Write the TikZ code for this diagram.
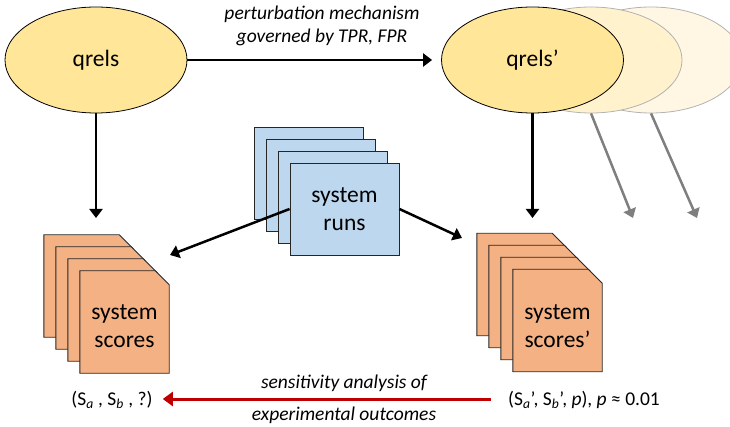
\documentclass[tikz,border=0pt]{standalone}
\usepackage{fontspec}
\setmainfont{Carlito}
\usetikzlibrary{arrows.meta,shapes.geometric}

\definecolor{qgold}{HTML}{FFE699}
\definecolor{qghostA}{HTML}{FFF2CC}
\definecolor{qghostB}{HTML}{FFF7E3}
\definecolor{runblue}{HTML}{BDD7EE}
\definecolor{scoreorange}{HTML}{F4B183}
\definecolor{darkred}{HTML}{C00000}
\definecolor{arrowgray}{HTML}{7F7F7F}

\newcommand{\bigtext}{\fontsize{23.5}{28}\selectfont}
\newcommand{\smalltext}{\fontsize{19.5}{23}\selectfont}

% one score sheet with a clipped top-right corner
\newcommand{\scoresheet}[2]{%
  \node[sheetbox] (#1) at (#2) {};
  \filldraw[sheetline] (#1.south west) -- (#1.north west)
    -- ([xshift=-14pt]#1.north east) -- ([yshift=-14pt]#1.north east)
    -- (#1.south east) -- cycle;
}

\begin{document}
\begin{tikzpicture}[x=1pt,y=-1pt,
  qellipse/.style={ellipse, draw=black, line width=0.8pt, fill=qgold,
    minimum width=182pt, minimum height=106pt, inner sep=0pt, font=\bigtext},
  ghost/.style={ellipse, draw=black!30, line width=0.8pt,
    minimum width=182pt, minimum height=106pt, inner sep=0pt},
  runbox/.style={rectangle, draw=black!85, line width=0.9pt, fill=runblue,
    minimum width=109pt, minimum height=92pt, inner sep=0pt},
  sheetbox/.style={rectangle, draw=none, minimum width=89pt,
    minimum height=102pt, inner sep=0pt},
  sheetline/.style={draw=black!85, line width=0.9pt, fill=scoreorange},
  flow/.style={line width=2.5pt, -{Triangle[length=9pt,width=13pt]}},
  ghostflow/.style={flow, draw=arrowgray},
  backflow/.style={line width=3pt, draw=darkred,
    -{Triangle[length=10pt,width=14pt]}},
  label/.style={font=\smalltext\itshape, inner sep=0pt},
  bigtxt/.style={font=\bigtext, align=center, inner sep=0pt},
  tuple/.style={font=\smalltext, inner sep=0pt}
]
\useasboundingbox (0,0) rectangle (730,427);
\clip (0,0) rectangle (730,427);

% relevance judgements and their perturbed copies
\node[qellipse] (qrels) at (96,60) {qrels};
\node[ghost, fill=qghostB] (ghostB) at (651,60) {};
\node[ghost, fill=qghostA] (ghostA) at (591,60) {};
\node[qellipse] (qrelsp) at (532.5,60) {qrels’};

\draw[flow, shorten >=9pt] (qrels.east) -- (qrelsp.west);
\node[label] (pert1) at (322,14) {perturbation mechanism};
\node[label] (pert2) at (322,37) {governed by TPR, FPR};

% system runs
\node[runbox] (runs3) at (308.5,173) {};
\node[runbox] (runs2) at (320.5,185) {};
\node[runbox] (runs1) at (332.5,197) {};
\node[runbox, font=\bigtext, align=center] (runs) at (344.5,209) {system\\runs};

% score sheets, original judgements
\scoresheet{sL3}{88.5,286}
\scoresheet{sL2}{100.5,298}
\scoresheet{sL1}{112.5,310}
\scoresheet{sL}{124.5,322}
\node[bigtxt] (sLtext) at (124.5,326) {system\\scores};

% score sheets, perturbed judgements
\scoresheet{sR3}{521.5,284.5}
\scoresheet{sR2}{533.5,296.5}
\scoresheet{sR1}{545.5,308.5}
\scoresheet{sR}{557.5,320.5}
\node[bigtxt] (sRtext) at (557.5,326) {system\\scores’};

% arrow end points
\coordinate (qdown) at (96,218);
\coordinate (qpdown) at (532.5,218);
\coordinate (gAend) at (633,218);
\coordinate (gBend) at (697,218);
\coordinate (runL) at (170,255);
\coordinate (runR) at (462,238);

\draw[flow] (qrels.south) -- (qdown);
\draw[flow] (qrelsp.south) -- (qpdown);
\draw[ghostflow] (ghostA.south) -- (gAend);
\draw[ghostflow] (ghostB.south) -- (gBend);
\draw[flow] (runs.west) -- (runL);
\draw[flow] (runs.east) -- (runR);

% outcomes
\node[tuple] (outL) at (112,400) {(S\textsubscript{\itshape a} , S\textsubscript{\itshape b} , ?)};
\node[tuple] (outR) at (584,400) {(S\textsubscript{\itshape a}’, S\textsubscript{\itshape b}’, \textit{p}), \textit{p} ≈ 0.01};
\draw[backflow] ([xshift=-17pt,yshift=1pt]outR.west) -- ([xshift=10pt,yshift=1pt]outL.east);
\node[label] (sens1) at (344,383) {sensitivity analysis of};
\node[label] (sens2) at (344,415) {experimental outcomes};
\end{tikzpicture}
\end{document}
